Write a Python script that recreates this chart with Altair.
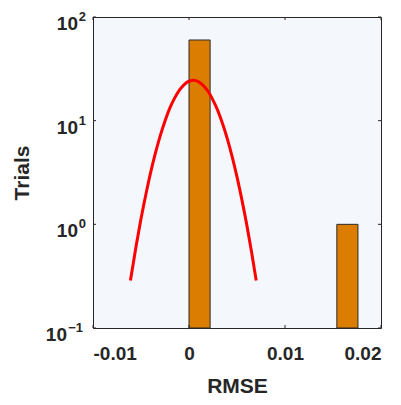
import altair as alt
import pandas as pd

# Histogram bins (RMSE) and counts
bin_start = [0.0, 0.0154]
bin_end = [0.0022, 0.0176]
counts = [60, 1]

# Fitted curve
curve_x = [-0.0061, -0.0055, -0.005, -0.0045, -0.004, -0.0035, -0.003, -0.0025,
           -0.002, -0.0015, -0.001, -0.0005, 0.0, 0.0005, 0.001, 0.0015, 0.002,
           0.0025, 0.003, 0.0035, 0.004, 0.0045, 0.005, 0.0055, 0.006, 0.0065, 0.007]
curve_y = [0.287, 0.625, 1.13, 1.93, 3.15, 4.86, 7.13, 9.93, 13.2, 16.5, 19.7,
           22.3, 24.0, 24.5, 23.7, 21.8, 19.1, 15.8, 12.5, 9.33, 6.64, 4.48,
           2.87, 1.74, 1.01, 0.552, 0.287]

x_ticks = [-0.01, 0.0, 0.01, 0.02]
x_tick_labels = ["-0.01", "0", "0.01", "0.02"]
y_ticks = [100, 10, 1, 0.1]
y_exponents = ["2", "1", "0", "\u22121"]

W, H = 288, 311
FONT = "Liberation Sans"
TXT = "#262626"

bars = pd.DataFrame({"x0": bin_start, "x1": bin_end, "n": counts, "base": [0.1] * len(counts)})
curve = pd.DataFrame({"x": curve_x, "y": curve_y})
xt = pd.DataFrame({"v": x_ticks, "lab": x_tick_labels})
yt = pd.DataFrame({"v": y_ticks, "e": y_exponents, "neg": [v < 1 for v in y_ticks]})

xs = alt.Scale(domain=[-0.01, 0.02], nice=False, zero=False)
ys = alt.Scale(type="log", domain=[0.1, 100], nice=False)

label_expr = ("datum.value == 0 ? '0' : (datum.value < 0 ? '-' + format(-datum.value, '.2f') "
              ": format(datum.value, '.2f'))")

bar_layer = alt.Chart(bars).mark_rect(color="#DB7D00", stroke="#2b2b2b", strokeWidth=1).encode(
    x=alt.X("x0:Q", scale=xs,
            axis=alt.Axis(values=x_ticks, labelExpr=label_expr,
                          title="RMSE", domain=False, ticks=False, grid=False,
                          labelFont=FONT, labelFontSize=19, labelFontWeight="bold", labelColor=TXT,
                          labelPadding=16, titleFont=FONT, titleFontSize=21, titleFontWeight="bold",
                          titleColor=TXT, titleX=W / 2, titleY=58, titleBaseline="middle")),
    x2="x1:Q",
    y=alt.Y("n:Q", scale=ys,
            axis=alt.Axis(values=y_ticks, labels=False, title="Trials", domain=False, ticks=False,
                          grid=False, titleFont=FONT, titleFontSize=21, titleFontWeight="bold",
                          titleColor=TXT, titleX=-71, titleY=H / 2, titleAngle=-90,
                          titleBaseline="middle", titleAlign="center")),
    y2="base:Q",
)

line_layer = alt.Chart(curve).mark_line(color="#FF0000", strokeWidth=3, interpolate="monotone").encode(
    x=alt.X("x:Q", scale=xs), y=alt.Y("y:Q", scale=ys)
)

# inward ticks (box style)
xtick_b = alt.Chart(xt).mark_rule(color=TXT, strokeWidth=1).encode(
    x=alt.X("v:Q", scale=xs), y=alt.value(H), y2=alt.value(H - 3))
xtick_t = alt.Chart(xt).mark_rule(color=TXT, strokeWidth=1).encode(
    x=alt.X("v:Q", scale=xs), y=alt.value(0), y2=alt.value(3))
ytick_l = alt.Chart(yt).mark_rule(color=TXT, strokeWidth=1).encode(
    y=alt.Y("v:Q", scale=ys), x=alt.value(0), x2=alt.value(3))
ytick_r = alt.Chart(yt).mark_rule(color=TXT, strokeWidth=1).encode(
    y=alt.Y("v:Q", scale=ys), x=alt.value(W), x2=alt.value(W - 3))

# y tick labels: "10" with superscript exponent
def base_text(flt, xpos):
    return alt.Chart(yt).transform_filter(flt).mark_text(
        text="10", font=FONT, fontSize=19, fontWeight="bold", color=TXT, align="right",
        baseline="middle", dy=7).encode(y=alt.Y("v:Q", scale=ys), x=alt.value(xpos))

def exp_text(flt, xpos):
    return alt.Chart(yt).transform_filter(flt).mark_text(
        font=FONT, fontSize=13, fontWeight="bold", color=TXT, align="right",
        baseline="middle", dy=0).encode(y=alt.Y("v:Q", scale=ys), x=alt.value(xpos), text="e:N")

labels = [
    base_text("!datum.neg", -15), base_text("datum.neg", -26),
    exp_text("!datum.neg", -7), exp_text("datum.neg", -10),
]

chart = alt.layer(bar_layer, line_layer, xtick_b, xtick_t, ytick_l, ytick_r, *labels).properties(
    width=W, height=H,
    autosize=alt.AutoSizeParams(type="none"),
    padding={"left": 93, "top": 17, "right": 20, "bottom": 77},
    background="white",
).configure_view(fill="#F4F7FC", stroke=TXT, strokeWidth=1)

chart.save("out.html", embed_options={"renderer": "svg", "actions": False})
